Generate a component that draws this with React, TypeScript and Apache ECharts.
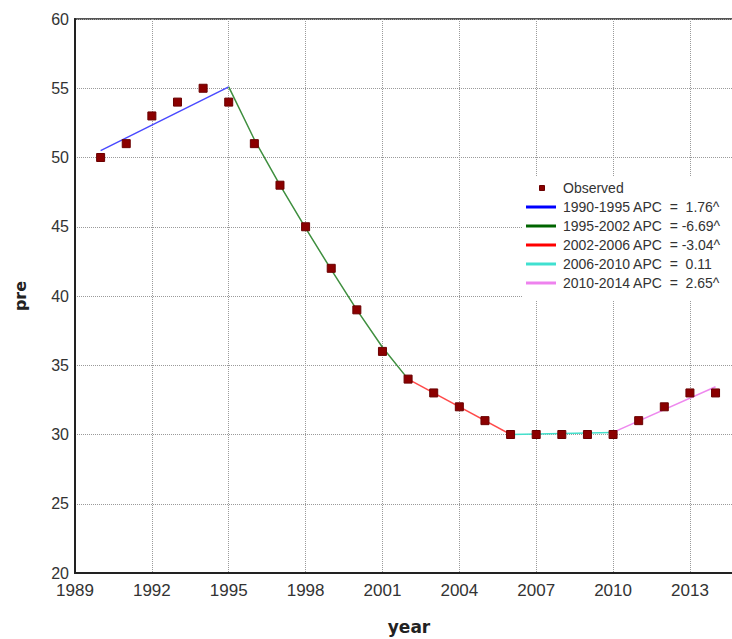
import React, { useEffect, useRef } from "react";
import * as echarts from "echarts";

const years = [1990, 1991, 1992, 1993, 1994, 1995, 1996, 1997, 1998, 1999, 2000, 2001, 2002, 2003, 2004, 2005, 2006, 2007, 2008, 2009, 2010, 2011, 2012, 2013, 2014];
const observed = [50, 51, 53, 54, 55, 54, 51, 48, 45, 42, 39, 36, 34, 33, 32, 31, 30, 30, 30, 30, 30, 31, 32, 33, 33];

const segmentNames = ["1990-1995 APC", "1995-2002 APC", "2002-2006 APC", "2006-2010 APC", "2010-2014 APC"];
const segmentApc = [" =  1.76^", " = -6.69^", " = -3.04^", " =  0.11", " =  2.65^"];
// fitted (modelled) values for each segment
const fit1990to1995Years = [1990, 1995];
const fit1990to1995Values = [50.5, 55.1];
const fit1995to2002Years = [1995, 1996, 1997, 1998, 1999, 2000, 2001, 2002];
const fit1995to2002Values = [55.1, 51.3, 48.0, 44.9, 41.9, 39.0, 36.3, 34.0];
const fit2002to2006Years = [2002, 2006];
const fit2002to2006Values = [34.0, 30.0];
const fit2006to2010Years = [2006, 2010];
const fit2006to2010Values = [30.0, 30.15];
const fit2010to2014Years = [2010, 2014];
const fit2010to2014Values = [30.15, 33.45];
const segmentYears = [fit1990to1995Years, fit1995to2002Years, fit2002to2006Years, fit2006to2010Years, fit2010to2014Years];
const segmentValues = [fit1990to1995Values, fit1995to2002Values, fit2002to2006Values, fit2006to2010Values, fit2010to2014Values];
const segmentLineColors = ["#4a4aff", "#3f8f3f", "#ff4a4a", "#45e0cc", "#ee88ee"];
const segmentLegendColors = ["#0000ff", "#006400", "#ff0000", "#40e0d0", "#ee82ee"];

const yTicks = { min: 20, max: 60, interval: 5 };
const xTicks = { min: 1989, max: 2014.72, interval: 3 };

export default function App() {
  const ref = useRef<HTMLDivElement>(null);
  useEffect(() => {
    if (!ref.current) return;
    const chart = echarts.init(ref.current, undefined, { renderer: "svg" });
    const font = "Liberation Sans, Arial, sans-serif";
    const boldFont = "DejaVu Sans, sans-serif";
    const legendX = 526;
    const legendY0 = 188;
    const rowH = 19;
    const legendGraphics: any[] = [
      { type: "rect", shape: { x: 522, y: 177, width: 210, height: 124 }, style: { fill: "#ffffff" }, z: 50 },
      { type: "rect", shape: { x: 539.5, y: legendY0 - 2.5, width: 5, height: 5 }, style: { fill: "#8b0000", stroke: "#6a0000", lineWidth: 1 }, z: 51 },
      { type: "text", x: 563, y: legendY0, style: { text: "Observed", font: `14px ${font}`, fill: "#333", verticalAlign: "middle" }, z: 51 },
    ];
    segmentNames.forEach((n, i) => {
      const y = legendY0 + rowH * (i + 1);
      legendGraphics.push({ type: "line", shape: { x1: legendX, y1: y, x2: legendX + 30, y2: y }, style: { stroke: segmentLegendColors[i], lineWidth: 3 }, z: 51 });
      legendGraphics.push({ type: "text", x: 563, y, style: { text: `${n} ${segmentApc[i]}`, font: `14px ${font}`, fill: "#333", verticalAlign: "middle" }, z: 51 });
    });

    const lineSeries = segmentNames.map((n, i) => ({
      name: n,
      type: "line",
      symbol: "none",
      data: segmentYears[i].map((y, j) => [y, segmentValues[i][j]]),
      lineStyle: { color: segmentLineColors[i], width: 1.5 },
      itemStyle: { color: segmentLineColors[i] },
      z: 3,
    }));

    chart.setOption({
      animation: false,
      backgroundColor: "#ffffff",
      grid: {
        left: 75, top: 19, right: -2, bottom: 66,
        outerBoundsMode: "none",
        containLabel: false,
        show: true, borderColor: "#555", borderWidth: 2, backgroundColor: "transparent",
      },
      xAxis: {
        type: "value",
        min: xTicks.min,
        max: xTicks.max,
        interval: xTicks.interval,
        name: "year",
        nameLocation: "middle",
        nameGap: 45,
        nameTextStyle: { fontFamily: boldFont, fontSize: 17, fontWeight: "bold", color: "#222", padding: [0, 0, 0, 9] },
        axisLine: { show: true, onZero: false, lineStyle: { color: "#222", width: 2 } },
        axisTick: { show: false },
        axisLabel: { showMaxLabel: false, fontFamily: font, fontSize: 17, color: "#333", margin: 9, formatter: (v: number) => String(v) },
        splitLine: { show: true, lineStyle: { color: "#9a9a9a", type: [1, 1], width: 1 } },
      },
      yAxis: {
        type: "value",
        min: yTicks.min,
        max: yTicks.max,
        interval: yTicks.interval,
        name: "pre",
        nameLocation: "middle",
        nameGap: 47,
        nameTextStyle: { fontFamily: boldFont, fontSize: 16, fontWeight: "bold", color: "#222" },
        axisLine: { show: true, onZero: false, lineStyle: { color: "#222", width: 2 } },
        axisTick: { show: false },
        axisLabel: { fontFamily: font, fontSize: 16, color: "#333", margin: 6 },
        splitLine: { show: true, lineStyle: { color: "#9a9a9a", type: [1, 1], width: 1 } },
      },
      series: [
        ...lineSeries,
        {
          name: "Observed",
          type: "scatter",
          symbol: "rect",
          symbolSize: 8,
          data: years.map((y, i) => [y, observed[i]]),
          itemStyle: { color: "#8b0000", borderColor: "#6a0000", borderWidth: 1, opacity: 1 },
          z: 4,
        },
      ],
      graphic: legendGraphics,
    });
    return () => chart.dispose();
  }, []);
  return <div ref={ref} style={{ position: "fixed", left: 0, top: 0, width: 732, height: 639 }} />;
}
